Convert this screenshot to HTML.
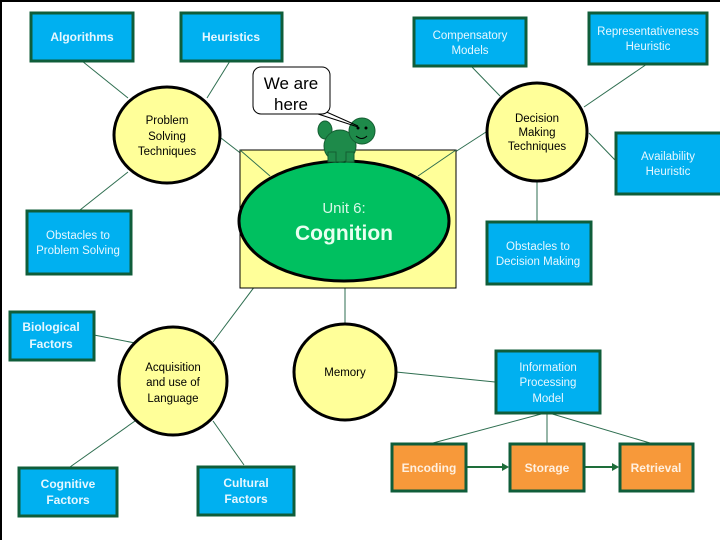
<!DOCTYPE html>
<html><head><style>
body{margin:0;width:720px;height:540px;background:#fff;overflow:hidden}
</style></head><body>
<svg width="720" height="540" xmlns="http://www.w3.org/2000/svg" font-family="'Liberation Sans',sans-serif">
<rect x="0" y="0" width="720" height="540" fill="#fff"/>
<line x1="0" y1="1" x2="720" y2="1" stroke="#000" stroke-width="2"/>
<line x1="1" y1="0" x2="1" y2="540" stroke="#000" stroke-width="2"/>
<g stroke="#2e6e50" stroke-width="1" fill="none">
<line x1="82" y1="61" x2="128" y2="98"/>
<line x1="230" y1="61" x2="207" y2="98"/>
<line x1="221" y1="138" x2="270" y2="176"/>
<line x1="128" y1="172" x2="80" y2="210"/>
<line x1="270" y1="266" x2="213" y2="342"/>
<line x1="345" y1="282" x2="345" y2="324"/>
<line x1="418" y1="176" x2="486" y2="132"/>
<line x1="471" y1="66" x2="500" y2="96"/>
<line x1="647" y1="64" x2="584" y2="107"/>
<line x1="589" y1="133" x2="615" y2="160"/>
<line x1="537" y1="181" x2="537" y2="221"/>
<line x1="94" y1="335" x2="135" y2="343"/>
<line x1="135" y1="421" x2="70" y2="467"/>
<line x1="213" y1="421" x2="244" y2="465"/>
<line x1="396" y1="372" x2="495" y2="382"/>
<line x1="545" y1="413" x2="433" y2="443"/>
<line x1="547" y1="413" x2="547" y2="443"/>
<line x1="549" y1="413" x2="650" y2="443"/>
</g>
<g stroke="#1e6e3a" stroke-width="2">
<line x1="466" y1="467" x2="505" y2="467"/>
<line x1="584" y1="467" x2="615" y2="467"/>
</g>
<polygon points="509,467 502,463 502,471" fill="#1e6e3a"/>
<polygon points="619,467 612,463 612,471" fill="#1e6e3a"/>

<rect x="240" y="150" width="216" height="138" fill="#ffff99" stroke="#000" stroke-width="1"/>
<line x1="240" y1="150" x2="270" y2="176" stroke="#2e6e50"/>
<line x1="456" y1="150" x2="418" y2="176" stroke="#2e6e50"/>
<ellipse cx="344" cy="221" rx="105" ry="60" fill="#00c060" stroke="#000" stroke-width="3"/>
<text x="344" y="213" text-anchor="middle" font-size="15" fill="#d8f8e8">Unit 6:</text>
<text x="344" y="240" text-anchor="middle" font-size="21" font-weight="bold" fill="#e8fff0">Cognition</text>

<!-- turtle -->
<g fill="#1e8a4a" stroke="#145e32" stroke-width="1">
<ellipse cx="325" cy="130" rx="7" ry="9"/>
<ellipse cx="340" cy="146" rx="16" ry="16"/>
<rect x="328" y="152" width="8" height="10"/>
<rect x="346" y="152" width="8" height="10"/>
<circle cx="362" cy="131" r="13"/>
</g>
<circle cx="358" cy="128" r="1.5" fill="#000"/><circle cx="366" cy="128" r="1.5" fill="#000"/>
<path d="M356 136 Q362 141 367 136" stroke="#000" fill="none"/>
<g stroke="#000" stroke-width="1">
<line x1="318" y1="114" x2="358" y2="127"/>
<line x1="322" y1="110" x2="358" y2="126"/>
</g>
<rect x="253" y="67" width="77" height="47" rx="8" fill="#fff" stroke="#000"/>
<text x="291" y="89" text-anchor="middle" font-size="17" fill="#000">We are</text>
<text x="291" y="110" text-anchor="middle" font-size="17" fill="#000">here</text>

<g fill="#ffff99" stroke="#000" stroke-width="3">
<ellipse cx="167" cy="135" rx="53" ry="48"/>
<ellipse cx="537" cy="132" rx="50" ry="49"/>
<ellipse cx="173" cy="381" rx="54" ry="54"/>
<ellipse cx="345" cy="372" rx="51" ry="48"/>
</g>
<g font-size="11.5" text-anchor="middle" fill="#000">
<text x="167" y="124">Problem</text><text x="167" y="140">Solving</text><text x="167" y="155">Techniques</text>
<text x="537" y="122">Decision</text><text x="537" y="136">Making</text><text x="537" y="150">Techniques</text>
<text x="173" y="371">Acquisition</text><text x="173" y="386">and use  of</text><text x="173" y="402">Language</text>
<text x="345" y="376">Memory</text>
</g>

<g fill="#00b0f0" stroke="#0f5d3a" stroke-width="3">
<rect x="31" y="13" width="102" height="48"/>
<rect x="181" y="13" width="101" height="48"/>
<rect x="414" y="18" width="112" height="48"/>
<rect x="589" y="13" width="118" height="51"/>
<rect x="27" y="211" width="104" height="63"/>
<rect x="616" y="133" width="106" height="61"/>
<rect x="487" y="222" width="104" height="62"/>
<rect x="10" y="312" width="84" height="48"/>
<rect x="19" y="468" width="98" height="48"/>
<rect x="198" y="467" width="96" height="48"/>
<rect x="496" y="351" width="104" height="62"/>
</g>
<g fill="#f7993a" stroke="#0f5d3a" stroke-width="3">
<rect x="392" y="444" width="74" height="47"/>
<rect x="510" y="444" width="74" height="47"/>
<rect x="620" y="444" width="73" height="47"/>
</g>
<g font-size="12" text-anchor="middle" fill="#e6f7ff">
<text x="82" y="41" font-weight="bold">Algorithms</text>
<text x="231" y="41" font-weight="bold">Heuristics</text>
<text x="470" y="39" font-size="11.5">Compensatory</text><text x="470" y="54" font-size="11.5">Models</text>
<text x="648" y="35" font-size="11.5">Representativeness</text><text x="648" y="50" font-size="11.5">Heuristic</text>
<text x="78" y="239" font-size="11.5">Obstacles to</text><text x="78" y="254" font-size="11.5">Problem Solving</text>
<text x="668" y="160" font-size="11.5">Availability</text><text x="668" y="175" font-size="11.5">Heuristic</text>
<text x="538" y="250" font-size="11.5">Obstacles to</text><text x="538" y="265" font-size="11.5">Decision Making</text>
<text x="51" y="331" font-weight="bold">Biological</text><text x="51" y="348" font-weight="bold">Factors</text>
<text x="68" y="488" font-weight="bold">Cognitive</text><text x="68" y="504" font-weight="bold">Factors</text>
<text x="246" y="487" font-weight="bold">Cultural</text><text x="246" y="503" font-weight="bold">Factors</text>
<text x="548" y="371" font-size="11.5">Information</text><text x="548" y="386" font-size="11.5">Processing</text><text x="548" y="402" font-size="11.5">Model</text>
<text x="429" y="472" font-weight="bold" fill="#fff0e0">Encoding</text>
<text x="547" y="472" font-weight="bold" fill="#fff0e0">Storage</text>
<text x="656" y="472" font-weight="bold" fill="#fff0e0">Retrieval</text>
</g>
</svg>
</body></html>
